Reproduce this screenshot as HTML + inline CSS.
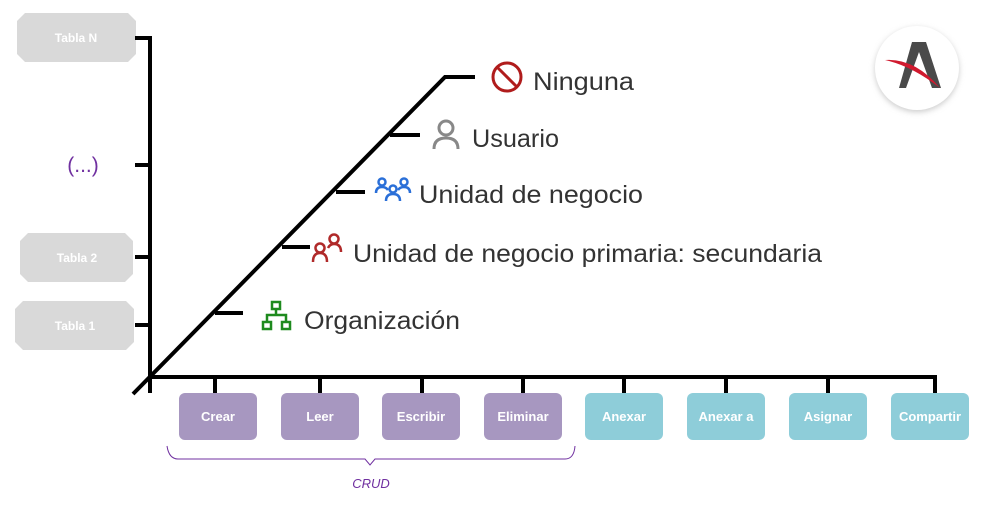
<!DOCTYPE html>
<html><head><meta charset="utf-8"><style>
body{margin:0;background:#fff;width:994px;height:504px;overflow:hidden;font-family:"Liberation Sans",sans-serif}
</style></head><body>
<svg width="994" height="504" viewBox="0 0 994 504" xmlns="http://www.w3.org/2000/svg" font-family="Liberation Sans, sans-serif">
<defs><filter id="sh" x="-30%" y="-30%" width="160%" height="160%"><feGaussianBlur stdDeviation="3"/></filter></defs>
<g fill="#d9d9d9">
<path d="M25,13 H128 L136,21 V54 L128,62 H25 L17,54 V21 Z"/>
<path d="M28,233 H125 L133,241 V274 L125,282 H28 L20,274 V241 Z"/>
<path d="M23,301 H126 L134,309 V342 L126,350 H23 L15,342 V309 Z"/>
</g>
<g fill="#fff" font-weight="bold" font-size="12" text-anchor="middle">
<text x="76" y="42">Tabla N</text>
<text x="77" y="262">Tabla 2</text>
<text x="75" y="330">Tabla 1</text>
</g>
<text x="83" y="172" font-size="21" fill="#7030a0" text-anchor="middle">(...)</text>
<g stroke="#000" stroke-width="4" fill="none">
<path d="M150,36 V393"/>
<path d="M135,38 H150 M135,165 H150 M135,257 H150 M135,325 H150"/>
<path d="M148,377 H937"/>
<path d="M215,377 V393 M320,377 V393 M422,377 V393 M523,377 V393 M624,377 V393 M726,377 V393 M828,377 V393 M935,377 V393"/>
<path d="M133,394 L445,77 H475"/>
<path d="M390,135 H420 M336,192 H365 M282,247 H310 M215,313 H243"/>
</g>
<g fill="#a797c0">
<rect x="179" y="393" width="78" height="47" rx="6"/>
<rect x="281" y="393" width="78" height="47" rx="6"/>
<rect x="382" y="393" width="78" height="47" rx="6"/>
<rect x="484" y="393" width="78" height="47" rx="6"/>
</g>
<g fill="#8ecdd9">
<rect x="585" y="393" width="78" height="47" rx="6"/>
<rect x="687" y="393" width="78" height="47" rx="6"/>
<rect x="789" y="393" width="78" height="47" rx="6"/>
<rect x="891" y="393" width="78" height="47" rx="6"/>
</g>
<g fill="#fff" font-weight="bold" font-size="13" text-anchor="middle">
<text x="218" y="421">Crear</text><text x="320" y="421">Leer</text><text x="421" y="421">Escribir</text><text x="523" y="421">Eliminar</text>
<text x="624" y="421">Anexar</text><text x="726" y="421">Anexar a</text><text x="828" y="421">Asignar</text><text x="930" y="421">Compartir</text>
</g>
<path d="M167,446 Q169,459 178,459 H365 L370,465 L375,459 H565 Q574,459 575,446" stroke="#7030a0" stroke-width="1" fill="none"/>
<text x="371" y="488" font-size="13" font-style="italic" fill="#7030a0" text-anchor="middle">CRUD</text>
<g font-size="25" fill="#333">
<text x="533" y="90" textLength="101" lengthAdjust="spacingAndGlyphs">Ninguna</text>
<text x="472" y="147" textLength="87" lengthAdjust="spacingAndGlyphs">Usuario</text>
<text x="419" y="203" textLength="224" lengthAdjust="spacingAndGlyphs">Unidad de negocio</text>
<text x="353" y="262" textLength="469" lengthAdjust="spacingAndGlyphs">Unidad de negocio primaria: secundaria</text>
<text x="304" y="329" textLength="156" lengthAdjust="spacingAndGlyphs">Organización</text>
</g>
<g fill="none" stroke-width="3">
<circle cx="507" cy="77" r="14" stroke="#b01c1c"/><path d="M497,67 L517,87" stroke="#b01c1c"/>
<circle cx="446" cy="128" r="7" stroke="#888"/><path d="M434,149 Q434,138 446,138 Q458,138 458,149" stroke="#888"/>
</g>
<g fill="none" stroke="#2a6fd8" stroke-width="2.5">
<circle cx="382" cy="182" r="3.5"/><circle cx="404" cy="182" r="3.5"/><circle cx="393" cy="189" r="3.5"/>
<path d="M376,193 Q376,187 382,187 Q386,187 388,190 M398,190 Q400,187 404,187 Q410,187 410,193 M386,201 Q386,194 393,194 Q400,194 400,201"/>
</g>
<g fill="none" stroke="#b02a2a" stroke-width="2.5">
<circle cx="334" cy="239" r="4.5"/><circle cx="320" cy="248" r="4.5"/>
<path d="M313,262 Q313,253 320,253 Q327,253 327,262 M328,248 Q330,244 334,244 Q341,244 341,252"/>
</g>
<g fill="none" stroke="#1e8a1e" stroke-width="2.5">
<rect x="272" y="302" width="8" height="7"/><rect x="263" y="322" width="8" height="7"/><rect x="282" y="322" width="8" height="7"/>
<path d="M276,309 V315 M267,322 V315 H286 V322"/>
</g>
<circle cx="917" cy="70" r="42" fill="#ccc" filter="url(#sh)"/>
<circle cx="917" cy="68" r="42" fill="#fff"/>
<path d="M912,42 H926 L941,88 H932 L919,52 L906,88 H899 Z" fill="#4a4a4a"/>
<path d="M885,60 Q915,58 940,88 Q912,66 885,60 Z" fill="#d0192e"/>
</svg>
</body></html>
